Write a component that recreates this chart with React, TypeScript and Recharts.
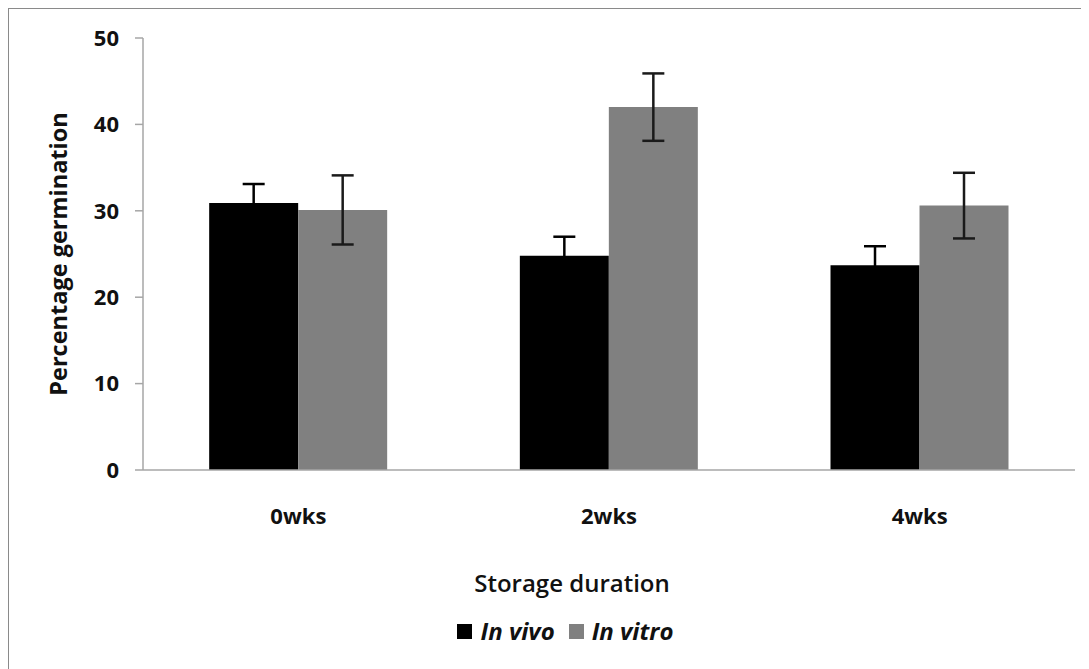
import React from 'react';
import { BarChart, Bar, XAxis, YAxis, ErrorBar, Legend } from 'recharts';

const categories = ['0wks', '2wks', '4wks'];
const inVivo = [30.9, 24.8, 23.7];
const inVivoErr = [2.2, 2.2, 2.2];
const inVitro = [30.1, 42.0, 30.6];
const inVitroErr = [4.0, 3.9, 3.8];
const yTicks = [0, 10, 20, 30, 40, 50];
const boundaryTicks = [0, 1, 2, 3];

const data = categories.map((c, i) => ({
  cat: c,
  vivo: inVivo[i],
  vivoErr: inVivoErr[i],
  vitro: inVitro[i],
  vitroErr: inVitroErr[i],
}));

const FONT = '"Open Sans", sans-serif';
const AXIS = '#a6a6a6';

const LegendContent = () => (
  <div
    style={{
      width: 1081,
      height: 69,
      display: 'flex',
      alignItems: 'flex-start',
      justifyContent: 'center',
      paddingLeft: 33,
      boxSizing: 'border-box',
      fontFamily: FONT,
      fontWeight: 700,
      fontStyle: 'italic',
      fontSize: 24,
      lineHeight: '32px',
      color: '#111',
    }}
  >
    <div style={{ display: 'flex', alignItems: 'center', marginTop: 15 }}>
      <span style={{ width: 15, height: 15, background: '#000', display: 'inline-block', marginRight: 9 }} />
      <span style={{ marginRight: 14 }}>In vivo</span>
      <span style={{ width: 15, height: 15, background: '#808080', display: 'inline-block', marginRight: 8 }} />
      <span>In vitro</span>
    </div>
  </div>
);

export default function App() {
  return (
    <div style={{ position: 'relative', width: 1081, height: 661, background: '#fff' }}>
      <BarChart
        width={1081}
        height={661}
        data={data}
        margin={{ top: 30, right: 14, left: 0, bottom: 0 }}
        barCategoryGap="21.3%"
        barGap={0}
      >
        <XAxis
          xAxisId="bounds"
          type="number"
          domain={[0, 3]}
          ticks={boundaryTicks}
          allowDataOverflow
          height={0}
          axisLine={false}
          tick={false}
          tickSize={8}
          tickLine={{ stroke: AXIS, strokeWidth: 1.5 }}
        />
        <XAxis
          dataKey="cat"
          xAxisId="main"
          height={130}
          tickSize={0}
          tickMargin={38}
          tickLine={false}
          axisLine={{ stroke: AXIS, strokeWidth: 1.5 }}
          tick={{ fontFamily: FONT, fontWeight: 700, fontSize: 22, fill: '#111' }}
          label={{
            value: 'Storage duration',
            position: 'insideBottom',
            offset: 8,
            dx: -37,
            style: { fontFamily: FONT, fontWeight: 600, fontSize: 24, fill: '#111' },
          }}
        />
        <YAxis
          width={135}
          domain={[0, 50]}
          ticks={yTicks}
          interval={0}
          tickSize={8}
          tickMargin={16}
          tickLine={{ stroke: AXIS, strokeWidth: 1.5 }}
          axisLine={{ stroke: AXIS, strokeWidth: 1.5 }}
          tick={{ fontFamily: FONT, fontWeight: 700, fontSize: 22, fill: '#111' }}
          label={{
            value: 'Percentage germination',
            angle: -90,
            position: 'center',
            dx: -17,
            style: { fontFamily: FONT, fontWeight: 700, fontSize: 23.5, fill: '#111', textAnchor: 'middle' },
          }}
        />
        <Legend
          verticalAlign="bottom"
          height={69}
          wrapperStyle={{ left: 0, width: 1081, bottom: 0 }}
          content={() => <LegendContent />}
        />
        <Bar dataKey="vivo" name="In vivo" xAxisId="main" fill="#000000" isAnimationActive={false}>
          <ErrorBar dataKey="vivoErr" width={11} stroke="#000000" strokeWidth={2.5} />
        </Bar>
        <Bar dataKey="vitro" name="In vitro" xAxisId="main" fill="#808080" isAnimationActive={false}>
          <ErrorBar dataKey="vitroErr" width={11} stroke="#1a1a1a" strokeWidth={2.5} />
        </Bar>
      </BarChart>
      <div
        style={{
          position: 'absolute',
          top: 0,
          left: 0,
          right: 0,
          bottom: 0,
          borderTop: '1.5px solid #8a8a8a',
          borderLeft: '1.5px solid #8a8a8a',
          pointerEvents: 'none',
        }}
      />
    </div>
  );
}
